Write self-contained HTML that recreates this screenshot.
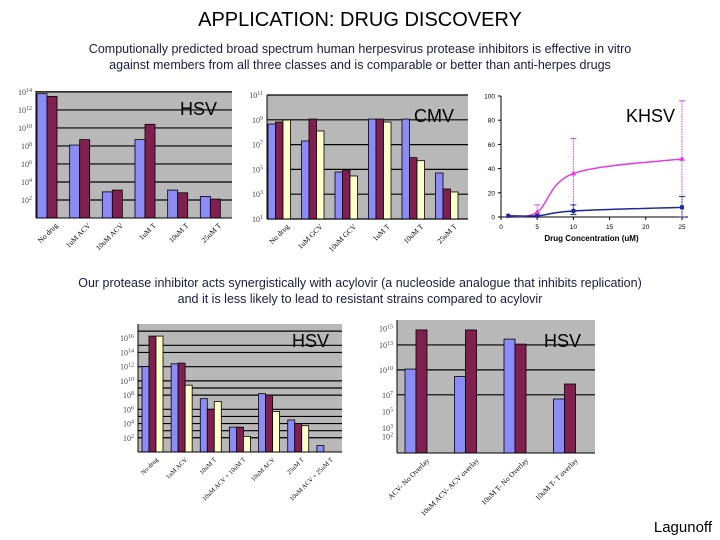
<!DOCTYPE html>
<html><head><meta charset="utf-8">
<style>
html,body{margin:0;padding:0;background:#fff;}
svg{display:block;font-family:"Liberation Sans",sans-serif;}
</style></head>
<body>
<svg id="s" width="720" height="540" viewBox="0 0 720 540">
<text x="360" y="26" font-size="20" text-anchor="middle">APPLICATION: DRUG DISCOVERY</text>
<text x="360" y="53" font-size="12.5" text-anchor="middle" fill="#1a1a40">Computionally predicted broad spectrum human herpesvirus protease inhibitors is effective in vitro</text>
<text x="360" y="69" font-size="12.5" text-anchor="middle" fill="#1a1a40">against members from all three classes and is comparable or better than anti-herpes drugs</text>
<text x="360" y="287" font-size="12.5" text-anchor="middle" fill="#1a1a40">Our protease inhibitor acts synergistically with acylovir (a nucleoside analogue that inhibits replication)</text>
<text x="360" y="303" font-size="12.5" text-anchor="middle" fill="#1a1a40">and it is less likely to lead to resistant strains compared to acylovir</text>
<text x="712" y="532" font-size="15" text-anchor="end">Lagunoff</text>
</svg>
<script>
// ---- Chart 1: HSV (top-left) ----
const c1Categories = ["No drug","1uM ACV","10uM ACV","1uM T","10uM T","25uM T"];
const c1Blue = [13.8, 8.1, 2.9, 8.7, 3.1, 2.4];
const c1Maroon = [13.5, 8.7, 3.1, 10.4, 2.8, 2.1];
const c1Ticks = [14, 12, 10, 8, 6, 4, 2];
// ---- Chart 2: CMV ----
const c2Categories = ["No drug","1uM GCV","10uM GCV","1uM T","10uM T","25uM T"];
const c2Blue = [8.66, 7.29, 4.79, 9.06, 9.06, 4.71];
const c2Maroon = [8.82, 9.06, 4.95, 9.06, 5.95, 3.42];
const c2Yellow = [8.98, 8.1, 4.47, 8.82, 5.7, 3.18];
const c2Ticks = [11, 9, 7, 5, 3, 1];
// ---- Chart 3: KHSV line ----
const c3X = [1, 5, 10, 25];
const c3Pink = [1, 4, 36, 48];
const c3PinkHi = [1, 10, 65, 96];
const c3PinkLo = [1, 1, 5, 0];
const c3Blue = [1, 1, 5, 8];
const c3BlueHi = [1, 1, 10, 17];
const c3BlueLo = [1, 1, 2, 0];
const c3YTicks = [0, 20, 40, 60, 80, 100];
const c3XTicks = [0, 5, 10, 15, 20, 25];
// ---- Chart 4: HSV synergy ----
const c4Categories = ["No drug","1uM ACV","10uM T","10uM ACV + 10uM T","10uM ACV","25uM T","10uM ACV + 25uM T"];
const c4Blue = [12.0, 12.4, 7.5, 3.5, 8.2, 4.5, 0.9];
const c4Maroon = [16.3, 12.5, 6.0, 3.5, 8.0, 4.0, 0];
const c4Yellow = [16.3, 9.4, 7.1, 2.2, 5.7, 3.7, 0];
const c4Ticks = [16, 14, 12, 10, 8, 6, 4, 2];
// ---- Chart 5: HSV resistance ----
const c5Categories = ["ACV- No Overlay","10uM ACV- ACV overlay","10uM T- No Overlay","10uM T- T overlay"];
const c5Blue = [10.1, 9.2, 13.7, 6.5];
const c5Maroon = [14.8, 14.8, 13.1, 8.3];
const c5Ticks = [15, 13, 10, 7, 5, 3, 2];
const c5Grid = [13, 10, 7];

const NS = "http://www.w3.org/2000/svg";
const svg = document.getElementById("s");
function mk(tag, attrs, parent){
  const e = document.createElementNS(NS, tag);
  for (const k in attrs) e.setAttribute(k, attrs[k]);
  (parent||svg).appendChild(e);
  return e;
}
const COLORS = ["#8c8cf8", "#80204f", "#ffffcc"];

function barChart(cfg){
  const g = mk("g", {});
  
  
  const y = v => cfg.y1 - (v - cfg.dmin) / (cfg.dmax - cfg.dmin) * (cfg.y1 - cfg.y0);
  const bg = mk("rect", {x:cfg.x0, y:cfg.y0, width:cfg.x1-cfg.x0, height:cfg.y1-cfg.y0, fill:"#b8b8b8"}, g);
  
  
  (cfg.grid || cfg.ticks).forEach(t => {
    const l = mk("line", {x1:cfg.x0, x2:cfg.x1, y1:y(t), y2:y(t), stroke:"#000", "stroke-width":1.2}, g);
    
    
  });
  cfg.ticks.forEach(t => {
    const tx = mk("text", {x:cfg.x0-4, y:y(t)+3, "font-size":8, "text-anchor":"end", fill:"#444", "font-family":"Liberation Serif, serif"}, g);
    tx.textContent = "10";
    const sup = mk("tspan", {dy:-3, "font-size":6}, tx);
    sup.textContent = String(t);
    
    
  });
  const n = cfg.categories.length;
  const gw = (cfg.x1 - cfg.x0) / n;
  cfg.series.forEach((ser, si) => {
    ser.forEach((v, i) => {
      if (v <= cfg.dmin) return;
      const bx = cfg.x0 + i*gw + cfg.off + si*cfg.bw;
      const r = mk("rect", {x:bx, y:y(v), width:cfg.bw, height:cfg.y1 - y(v), fill:COLORS[si], stroke:"#000", "stroke-width":0.8}, g);
      
      
    });
  });
  const ax = mk("line", {x1:cfg.x0, x2:cfg.x0, y1:cfg.y0, y2:cfg.y1, stroke:"#000", "stroke-width":1}, g);
  
  
  const bx = mk("line", {x1:cfg.x0, x2:cfg.x1, y1:cfg.y1, y2:cfg.y1, stroke:"#000", "stroke-width":1}, g);
  
  
  cfg.categories.forEach((c, i) => {
    const cx = cfg.x0 + (i+0.5)*gw + cfg.labelShift;
    const ly = cfg.y1 + 8;
    const t = mk("text", {x:cx, y:ly, "font-size":cfg.lfs, "text-anchor":"end", "font-family":"Liberation Serif, serif", transform:`rotate(-45 ${cx} ${ly})`}, g);
    t.textContent = c;
    
    
  });
  const tt = mk("text", {x:cfg.tx, y:cfg.ty, "font-size":18}, g);
  tt.textContent = cfg.title;
  
  
}

barChart({name:"hsv-chart-top", x0:36, x1:232, y0:91, y1:218, dmin:0, dmax:14.1, ticks:c1Ticks,
  series:[c1Blue, c1Maroon], categories:c1Categories, off:1, bw:10, lfs:7.5, labelShift:6, title:"HSV", tx:180, ty:115});
barChart({name:"cmv-chart", x0:267, x1:468, y0:95, y1:219, dmin:1, dmax:11, ticks:c2Ticks,
  series:[c2Blue, c2Maroon, c2Yellow], categories:c2Categories, off:1, bw:7.5, lfs:7.5, labelShift:6, title:"CMV", tx:414, ty:122});
barChart({name:"hsv-synergy-chart", x0:138, x1:342, y0:324, y1:452, dmin:0, dmax:18, ticks:c4Ticks, grid:[17,15,14,12,10,9,8,6,5,4,3,2],
  series:[c4Blue, c4Maroon, c4Yellow], categories:c4Categories, off:4, bw:7, lfs:6.5, labelShift:6, title:"HSV", tx:292, ty:347});
barChart({name:"hsv-resistance-chart", x0:397, x1:595, y0:320, y1:453, dmin:0, dmax:16, ticks:c5Ticks, grid:c5Grid,
  series:[c5Blue, c5Maroon], categories:c5Categories, off:8, bw:11, lfs:7.5, labelShift:8, title:"HSV", tx:544, ty:347});

// KHSV line chart
(function(){
  const g = mk("g", {});
  
  
  const X0 = 501, X1 = 682, Y0 = 217, Y1 = 96;
  const x = v => X0 + v/25*(X1-X0);
  const y = v => Y0 - v/100*(Y0-Y1);
  const ya = mk("line", {x1:X0, x2:X0, y1:Y1, y2:Y0, stroke:"#000"}, g);
  
  
  const xa = mk("line", {x1:X0, x2:X1+6, y1:Y0, y2:Y0, stroke:"#000"}, g);
  
  
  c3YTicks.forEach(t => {
    mk("line", {x1:X0-3, x2:X0, y1:y(t), y2:y(t), stroke:"#000"}, g);
    const tx = mk("text", {x:X0-6, y:y(t)+2.5, "font-size":6.5, "text-anchor":"end"}, g);
    tx.textContent = t;
    
    
  });
  c3XTicks.forEach(t => {
    mk("line", {x1:x(t), x2:x(t), y1:Y0, y2:Y0+3, stroke:"#000"}, g);
    const tx = mk("text", {x:x(t), y:Y0+12, "font-size":6.5, "text-anchor":"middle"}, g);
    tx.textContent = t;
    
    
  });
  const xt = mk("text", {x:(X0+X1)/2, y:Y0+24, "font-size":8, "font-weight":"bold", "text-anchor":"middle"}, g);
  xt.textContent = "Drug Concentration (uM)";
  
  
  function smooth(xs, ys){
    const P = xs.map((v,i)=>[x(v), y(ys[i])]);
    let d = `M${P[0][0]},${P[0][1]}`;
    for (let i=0;i<P.length-1;i++){
      const p0=P[Math.max(0,i-1)], p1=P[i], p2=P[i+1], p3=P[Math.min(P.length-1,i+2)];
      const c1=[p1[0]+(p2[0]-p0[0])/6, p1[1]+(p2[1]-p0[1])/6];
      const c2=[p2[0]-(p3[0]-p1[0])/6, p2[1]-(p3[1]-p1[1])/6];
      d += ` C${c1[0]},${c1[1]} ${c2[0]},${c2[1]} ${p2[0]},${p2[1]}`;
    }
    return d;
  }
  function series(vals, hi, lo, col, nm, marker){
    vals.forEach((v,i) => {
      if (hi[i] === lo[i]) return;
      const eb = mk("line", {x1:x(c3X[i]), x2:x(c3X[i]), y1:y(hi[i]), y2:y(lo[i]), stroke:col, "stroke-width":1, "stroke-dasharray":"1.5,1"}, g);
      
      
      mk("line", {x1:x(c3X[i])-3, x2:x(c3X[i])+3, y1:y(hi[i]), y2:y(hi[i]), stroke:col}, g);
      mk("line", {x1:x(c3X[i])-3, x2:x(c3X[i])+3, y1:y(lo[i]), y2:y(lo[i]), stroke:col}, g);
    });
    const p = mk("path", {d:smooth(c3X, vals), fill:"none", stroke:col, "stroke-width":1.5}, g);
    
    
    vals.forEach((v,i) => {
      const cx = x(c3X[i]), cy = y(v);
      const m = marker === "tri"
        ? mk("polygon", {points:`${cx},${cy-3} ${cx-3},${cy+2} ${cx+3},${cy+2}`, fill:col}, g)
        : mk("rect", {x:cx-2, y:cy-2, width:4, height:4, fill:col}, g);
      
      
    });
  }
  series(c3Pink, c3PinkHi, c3PinkLo, "#e040e0", "pink-series", "tri");
  series(c3Blue, c3BlueHi, c3BlueLo, "#1a2a9a", "blue-series", "sq");
  const tt = mk("text", {x:626, y:122, "font-size":18}, g);
  tt.textContent = "KHSV";
  
  
})();
</script>
</body></html>
